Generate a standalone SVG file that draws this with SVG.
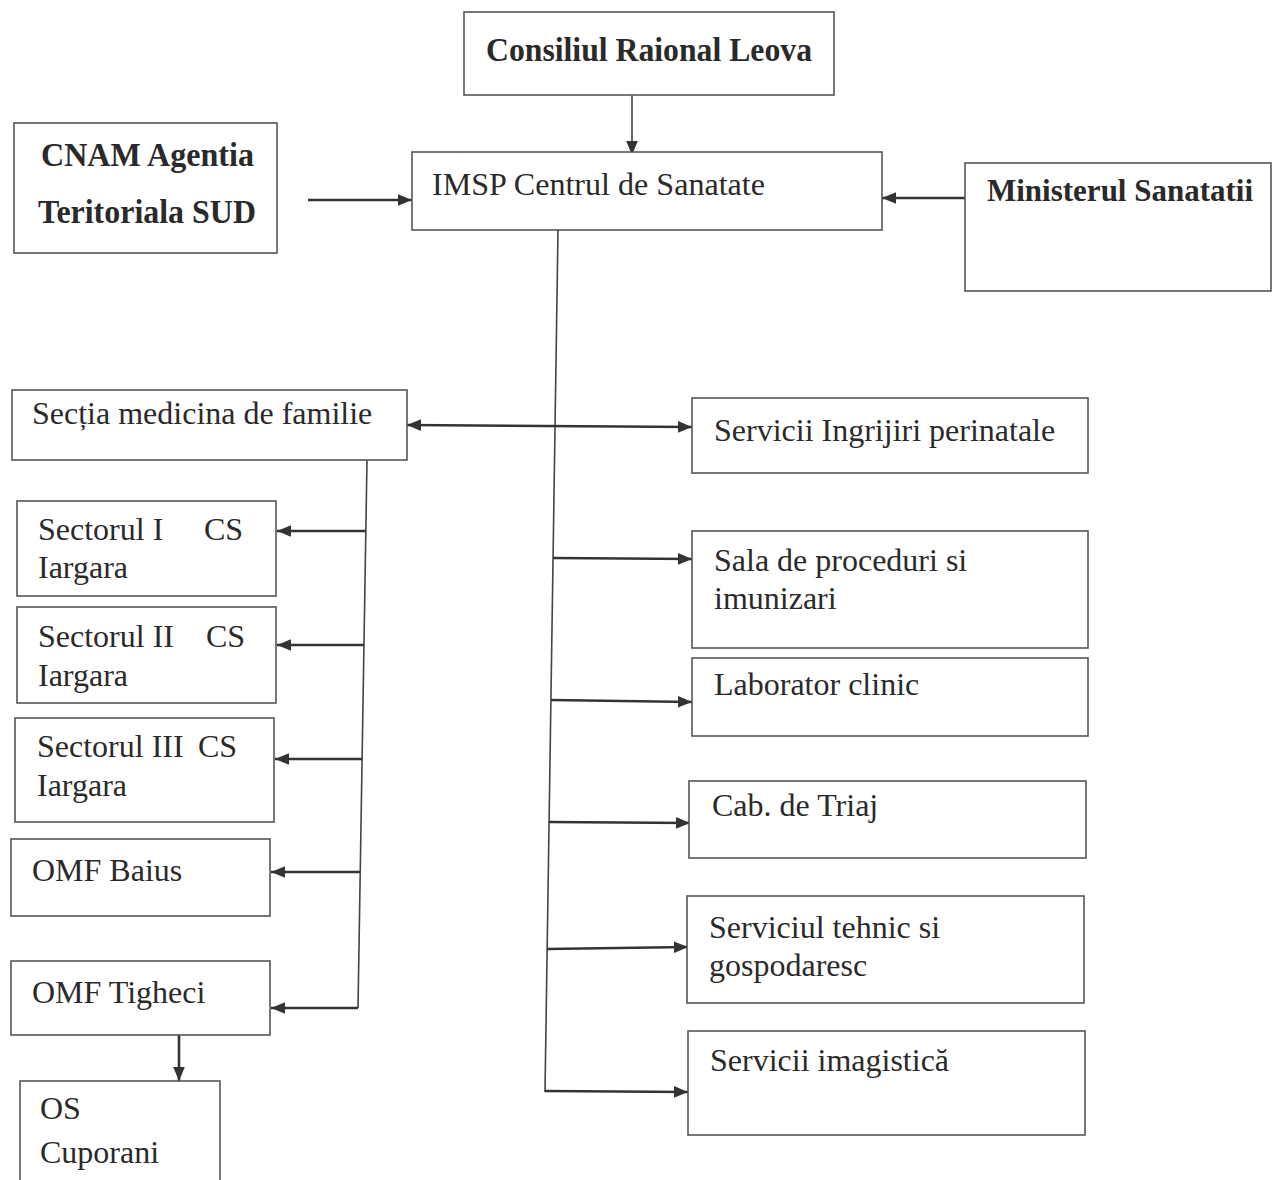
<svg xmlns="http://www.w3.org/2000/svg" width="1273" height="1180" viewBox="0 0 1273 1180">
<style>
.box{fill:#fff;stroke:#555;stroke-width:1.6}
.t{font-family:"Liberation Serif","Times New Roman",serif;font-size:32px;fill:#2a2a2a}
.b{font-weight:bold;font-size:34px}
.c{stroke:#333;stroke-width:2.6;fill:none}
.thin{stroke:#444;stroke-width:1.6;fill:none}
</style>
<defs>
<marker id="ah" viewBox="0 0 12 10" refX="12" refY="5" markerWidth="14" markerHeight="12" markerUnits="userSpaceOnUse" orient="auto-start-reverse">
<path d="M0,0 L12,5 L0,10 z" fill="#333"/>
</marker>
</defs>
<rect width="1273" height="1180" fill="#fff"/>

<g id="connectors">
<line class="thin" x1="632" y1="95" x2="632" y2="155" marker-end="url(#ah)"/>
<line class="c" x1="308" y1="200" x2="412" y2="200" marker-end="url(#ah)"/>
<line class="c" x1="965" y1="198" x2="882" y2="198" marker-end="url(#ah)"/>
<line class="thin" x1="558" y1="230" x2="545" y2="1092"/>
<line class="c" x1="407" y1="425" x2="692" y2="427" marker-start="url(#ah)" marker-end="url(#ah)"/>
<line class="c" x1="553" y1="558" x2="692" y2="559" marker-end="url(#ah)"/>
<line class="c" x1="551" y1="700" x2="692" y2="702" marker-end="url(#ah)"/>
<line class="c" x1="549" y1="822" x2="690" y2="823" marker-end="url(#ah)"/>
<line class="c" x1="547" y1="949" x2="688" y2="947" marker-end="url(#ah)"/>
<line class="c" x1="545" y1="1091" x2="688" y2="1092" marker-end="url(#ah)"/>
<line class="thin" x1="367" y1="460" x2="358" y2="1008"/>
<line class="c" x1="366" y1="531" x2="277" y2="531" marker-end="url(#ah)"/>
<line class="c" x1="364" y1="645" x2="277" y2="645" marker-end="url(#ah)"/>
<line class="c" x1="362" y1="759" x2="275" y2="759" marker-end="url(#ah)"/>
<line class="c" x1="360" y1="872" x2="271" y2="872" marker-end="url(#ah)"/>
<line class="c" x1="358" y1="1008" x2="271" y2="1008" marker-end="url(#ah)"/>
<line class="c" x1="179" y1="1035" x2="179" y2="1081" marker-end="url(#ah)"/>
</g>

<g id="consiliul"><rect class="box" x="464" y="12" width="370" height="83"/><text class="t b" x="486" y="61" textLength="326" lengthAdjust="spacingAndGlyphs">Consiliul Raional Leova</text></g>
<g id="cnam"><rect class="box" x="14" y="123" width="263" height="130"/><text class="t b" x="41" y="166" textLength="213" lengthAdjust="spacingAndGlyphs">CNAM Agentia</text><text class="t b" x="38" y="223" textLength="218" lengthAdjust="spacingAndGlyphs">Teritoriala SUD</text></g>
<g id="imsp"><rect class="box" x="412" y="152" width="470" height="78"/><text class="t" x="432" y="195" textLength="333" lengthAdjust="spacingAndGlyphs">IMSP Centrul de Sanatate</text></g>
<g id="ministerul"><rect class="box" x="965" y="163" width="306" height="128"/><text class="t b" x="987" y="201" style="font-size:31px">Ministerul Sanatatii</text></g>

<g id="sectia"><rect class="box" x="12" y="390" width="395" height="70"/><text class="t" x="32" y="424">Secția medicina de familie</text></g>
<g id="sector1"><rect class="box" x="17" y="501" width="259" height="95"/><text class="t" x="38" y="540">Sectorul I</text><text class="t" x="204" y="540">CS</text><text class="t" x="38" y="578">Iargara</text></g>
<g id="sector2"><rect class="box" x="17" y="607" width="259" height="96"/><text class="t" x="38" y="647">Sectorul II</text><text class="t" x="206" y="647">CS</text><text class="t" x="38" y="686">Iargara</text></g>
<g id="sector3"><rect class="box" x="15" y="718" width="259" height="104"/><text class="t" x="37" y="757">Sectorul III</text><text class="t" x="198" y="757">CS</text><text class="t" x="37" y="796">Iargara</text></g>
<g id="baius"><rect class="box" x="11" y="839" width="259" height="77"/><text class="t" x="32" y="881">OMF Baius</text></g>
<g id="tigheci"><rect class="box" x="11" y="961" width="259" height="74"/><text class="t" x="32" y="1003">OMF Tigheci</text></g>
<g id="cuporani"><rect class="box" x="20" y="1081" width="200" height="110"/><text class="t" x="40" y="1119">OS</text><text class="t" x="40" y="1163">Cuporani</text></g>

<g id="perinatale"><rect class="box" x="692" y="398" width="396" height="75"/><text class="t" x="714" y="441">Servicii Ingrijiri perinatale</text></g>
<g id="sala"><rect class="box" x="692" y="531" width="396" height="117"/><text class="t" x="714" y="571">Sala de proceduri si</text><text class="t" x="714" y="609">imunizari</text></g>
<g id="laborator"><rect class="box" x="692" y="658" width="396" height="78"/><text class="t" x="714" y="695">Laborator clinic</text></g>
<g id="triaj"><rect class="box" x="689" y="781" width="397" height="77"/><text class="t" x="712" y="816">Cab. de Triaj</text></g>
<g id="tehnic"><rect class="box" x="687" y="896" width="397" height="107"/><text class="t" x="709" y="938">Serviciul tehnic si</text><text class="t" x="709" y="976">gospodaresc</text></g>
<g id="imagistica"><rect class="box" x="688" y="1031" width="397" height="104"/><text class="t" x="710" y="1071">Servicii imagistică</text></g>
</svg>
